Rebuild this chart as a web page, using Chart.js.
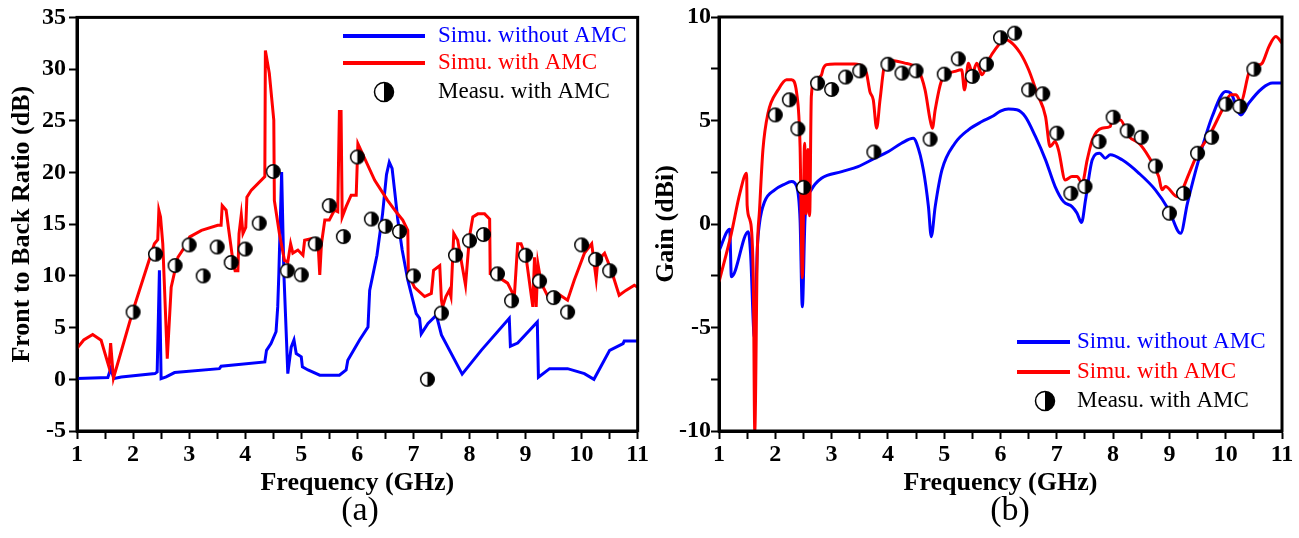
<!DOCTYPE html>
<html>
<head>
<meta charset="utf-8">
<script src="https://cdn.jsdelivr.net/npm/chart.js@4"></script>
<style>
  body { margin: 0; background: #fff; }
  #wrap { position: relative; width: 1299px; height: 538px; }
  canvas { position: absolute; top: 0; }
</style>
</head>
<body>
<div id="wrap">
  <canvas id="chartA" width="650" height="538" style="left:0"></canvas>
  <canvas id="chartB" width="649" height="538" style="left:650px"></canvas>
</div>
<script>
// ---- (a) front to back ratio ----
const aBlueX = [1.0, 1.55, 1.6, 1.66, 1.79, 2.39, 2.43, 2.47, 2.5, 2.59, 2.74, 3.54, 3.57, 4.35, 4.38, 4.46, 4.55, 4.58, 4.6, 4.65, 4.69, 4.76, 4.82, 4.87, 4.91, 5.0, 5.02, 5.12, 5.33, 5.68, 5.8, 5.83, 6.04, 6.19, 6.22, 6.35, 6.45, 6.52, 6.57, 6.62, 6.67, 6.72, 6.8, 6.9, 7.05, 7.11, 7.14, 7.26, 7.41, 7.5, 7.87, 8.21, 8.71, 8.73, 8.86, 9.21, 9.23, 9.43, 9.75, 10.05, 10.22, 10.5, 10.74, 10.76, 11.0];
const aBlueY = [0.07, 0.17, 1.0, 0.07, 0.23, 0.55, 0.7, 10.55, 0.07, 0.23, 0.65, 1.03, 1.26, 1.68, 2.8, 3.45, 4.6, 7.0, 10.2, 20.05, 10.2, 0.55, 3.1, 3.8, 2.49, 2.17, 1.2, 0.9, 0.4, 0.4, 0.9, 1.84, 3.8, 5.06, 8.6, 12.0, 16.0, 19.8, 21.0, 20.4, 18.0, 15.5, 12.5, 9.6, 6.35, 5.9, 4.4, 5.4, 6.2, 4.3, 0.5, 2.8, 5.9, 3.2, 3.5, 5.55, 0.2, 1.03, 1.03, 0.55, 0.0, 2.8, 3.45, 3.7, 3.7];

const aRedX = [1.0, 1.12, 1.28, 1.43, 1.57, 1.6, 1.65, 2.0, 2.38, 2.44, 2.46, 2.49, 2.53, 2.61, 2.68, 2.8, 2.92, 3.01, 3.22, 3.51, 3.57, 3.59, 3.66, 3.7, 3.78, 3.82, 3.87, 3.89, 3.93, 3.96, 4.01, 4.03, 4.11, 4.35, 4.36, 4.43, 4.51, 4.52, 4.61, 4.7, 4.76, 4.81, 4.85, 4.94, 5.03, 5.06, 5.18, 5.3, 5.33, 5.36, 5.42, 5.5, 5.59, 5.65, 5.68, 5.71, 5.73, 5.8, 5.89, 5.98, 6.01, 6.31, 6.54, 6.69, 6.81, 6.9, 6.91, 7.02, 7.2, 7.32, 7.36, 7.47, 7.5, 7.52, 7.58, 7.64, 7.67, 7.72, 7.79, 7.93, 8.0, 8.06, 8.15, 8.27, 8.36, 8.37, 8.51, 8.68, 8.8, 8.86, 8.92, 9.01, 9.13, 9.16, 9.19, 9.22, 9.28, 9.4, 9.57, 9.75, 9.87, 10.05, 10.18, 10.26, 10.29, 10.41, 10.53, 10.67, 10.79, 10.94, 11.0];
const aRedY = [3.0, 3.8, 4.33, 3.78, 1.2, 3.5, 0.1, 6.68, 13.1, 13.5, 16.35, 15.7, 13.1, 2.0, 8.9, 11.8, 12.8, 13.77, 14.4, 14.9, 14.9, 16.8, 16.35, 14.7, 11.5, 10.5, 10.5, 14.1, 15.9, 14.1, 14.7, 17.6, 18.3, 19.6, 31.8, 29.6, 25.06, 17.3, 14.1, 11.5, 11.35, 13.1, 12.2, 12.5, 12.0, 13.45, 13.6, 13.1, 10.1, 13.1, 15.4, 15.4, 16.35, 16.2, 25.9, 25.9, 15.7, 16.7, 17.8, 17.8, 22.8, 19.25, 17.3, 16.2, 15.4, 14.4, 10.2, 8.9, 8.0, 8.3, 10.55, 11.0, 7.65, 7.0, 8.0, 8.6, 8.0, 14.1, 13.45, 9.1, 13.77, 15.7, 16.0, 16.0, 15.5, 10.2, 9.9, 9.3, 8.0, 13.1, 13.1, 11.8, 7.0, 11.8, 7.0, 11.2, 9.3, 8.0, 8.3, 7.65, 9.6, 12.2, 13.1, 9.7, 11.5, 12.2, 10.55, 8.13, 8.6, 9.1, 8.9];

const aMeasX = [2, 2.4, 2.75, 3, 3.25, 3.5, 3.75, 4, 4.25, 4.5, 4.75, 5, 5.25, 5.5, 5.75, 6, 6.25, 6.5, 6.75, 7, 7.25, 7.5, 7.75, 8, 8.25, 8.5, 8.75, 9, 9.25, 9.5, 9.75, 10, 10.25, 10.5];
const aMeasY = [6.5, 12.1, 11.0, 13.0, 10.0, 12.8, 11.3, 12.6, 15.1, 20.1, 10.5, 10.1, 13.1, 16.8, 13.8, 21.5, 15.5, 14.8, 14.3, 10.0, 0.0, 6.4, 12.0, 13.4, 14.0, 10.2, 7.6, 12.0, 9.5, 7.9, 6.5, 13.0, 11.6, 10.5];

// ---- (b) gain ----
const bBlueX = [1.0, 1.19, 1.22, 1.52, 1.56, 1.63, 1.68, 1.72, 1.81, 1.99, 2.15, 2.29, 2.38, 2.44, 2.48, 2.53, 2.64, 2.82, 3.18, 3.47, 3.77, 4.01, 4.24, 4.45, 4.51, 4.63, 4.72, 4.77, 4.84, 4.96, 5.19, 5.43, 5.67, 5.85, 6.0, 6.14, 6.29, 6.44, 6.62, 6.8, 6.97, 7.12, 7.27, 7.36, 7.44, 7.51, 7.63, 7.76, 7.86, 7.95, 8.16, 8.46, 8.75, 8.99, 9.2, 9.32, 9.52, 9.76, 10.0, 10.09, 10.27, 10.41, 10.65, 10.83, 11.0];
const bBlueY = [-1.3, -0.25, -2.55, -0.37, -1.4, -5.5, -1.2, 0.05, 1.08, 1.65, 1.9, 2.05, 1.81, 0.19, -4.0, 0.35, 1.65, 2.21, 2.53, 2.77, 3.18, 3.5, 3.9, 4.14, 3.9, 2.61, 0.84, -0.61, 0.84, 2.61, 3.9, 4.55, 4.95, 5.19, 5.45, 5.55, 5.52, 5.19, 4.23, 3.1, 1.81, 1.08, 0.84, 0.52, 0.07, 1.16, 3.1, 3.42, 3.18, 3.34, 3.1, 2.45, 1.65, 0.68, -0.45, 1.0, 3.1, 5.19, 6.4, 6.32, 5.27, 5.84, 6.56, 6.81, 6.81];

const bRedX = [1.0, 1.22, 1.37, 1.49, 1.5, 1.55, 1.61, 1.635, 1.68, 1.72, 1.78, 1.87, 2.05, 2.2, 2.29, 2.38, 2.44, 2.48, 2.52, 2.55, 2.58, 2.61, 2.64, 2.7, 2.82, 2.85, 2.91, 3.06, 3.41, 3.55, 3.62, 3.68, 3.74, 3.8, 3.86, 3.95, 4.07, 4.3, 4.42, 4.54, 4.66, 4.75, 4.79, 4.84, 4.96, 5.19, 5.31, 5.36, 5.43, 5.5, 5.58, 5.67, 5.79, 5.91, 6.08, 6.17, 6.35, 6.5, 6.65, 6.8, 6.88, 6.97, 7.03, 7.15, 7.27, 7.36, 7.45, 7.54, 7.63, 7.8, 7.95, 7.98, 8.13, 8.28, 8.46, 8.63, 8.81, 8.87, 8.93, 9.14, 9.2, 9.35, 9.52, 9.7, 9.94, 10.09, 10.18, 10.27, 10.41, 10.47, 10.59, 10.65, 10.77, 10.89, 11.0];
const bRedY = [-2.8, -0.45, 1.48, 2.45, 0.9, 0.19, -2.7, -10, -1.42, 0.68, 3.58, 5.35, 6.48, 6.97, 6.97, 6.32, 3.74, -2.6, 3.9, 0.5, 3.6, 0.4, 6.16, 6.97, 7.2, 7.5, 7.7, 7.73, 7.73, 7.6, 7.29, 6.4, 6.0, 4.63, 6.0, 7.77, 7.9, 7.77, 7.69, 7.45, 6.48, 5.03, 4.63, 5.52, 6.97, 7.37, 7.45, 6.48, 7.77, 7.3, 7.77, 7.21, 7.93, 8.45, 8.9, 8.82, 8.26, 7.45, 6.32, 5.19, 3.74, 3.98, 3.58, 2.13, 2.29, 2.29, 1.97, 3.1, 4.06, 4.63, 4.71, 5.03, 5.03, 4.23, 3.9, 3.26, 2.29, 1.65, 1.81, 1.32, 1.48, 2.45, 3.5, 4.23, 5.52, 6.24, 6.24, 5.92, 7.29, 7.61, 7.69, 7.77, 8.58, 9.06, 8.74];

const bMeasX = [2, 2.25, 2.4, 2.5, 2.75, 3, 3.25, 3.5, 3.75, 4, 4.25, 4.5, 4.75, 5, 5.25, 5.5, 5.75, 6, 6.25, 6.5, 6.75, 7, 7.25, 7.5, 7.75, 8, 8.25, 8.5, 8.75, 9, 9.25, 9.5, 9.75, 10, 10.25, 10.5];
const bMeasY = [5.27, 6.0, 4.6, 1.77, 6.8, 6.5, 7.1, 7.4, 3.48, 7.72, 7.29, 7.4, 4.1, 7.24, 7.98, 7.13, 7.72, 9.0, 9.22, 6.48, 6.29, 4.39, 1.48, 1.81, 3.98, 5.16, 4.5, 4.19, 2.8, 0.52, 1.48, 3.42, 4.19, 5.79, 5.68, 7.48];

const legendText = ["Simu. without AMC", "Simu. with AMC", "Measu. with AMC"];

const FONT = "'Liberation Serif', 'Times New Roman', serif";

const pts = (xs, ys) => xs.map((x, i) => ({ x: x, y: ys[i] }));

// half filled circle (right half black)
const halfDot = (r) => {
  const c = document.createElement("canvas");
  const s = Math.ceil(r * 2 + 3);
  c.width = s; c.height = s;
  const g = c.getContext("2d");
  const m = s / 2;
  g.beginPath(); g.arc(m, m, r, 0, Math.PI * 2); g.fillStyle = "#fff"; g.fill();
  g.beginPath(); g.moveTo(m, m - r); g.arc(m, m, r, -Math.PI / 2, Math.PI / 2); g.closePath();
  g.fillStyle = "#000"; g.fill();
  g.beginPath(); g.arc(m, m, r, 0, Math.PI * 2); g.lineWidth = 1.5; g.strokeStyle = "#000"; g.stroke();
  return c;
};
const smallDot = halfDot(6.8);
const bigDot = halfDot(9.5);

const decor = {
  id: "decor",
  afterDraw(chart, args, o) {
    const ctx = chart.ctx, a = chart.chartArea;
    ctx.save();
    ctx.strokeStyle = "#000"; ctx.lineWidth = 3;
    ctx.strokeRect(a.left, a.top, a.right - a.left, a.bottom - a.top);
    ctx.font = "23px " + FONT;
    ctx.textBaseline = "middle";
    const cols = ["#0000ff", "#ff0000", "#000000"];
    legendText.forEach((t, i) => {
      const y = o.rows[i];
      if (i < 2) {
        ctx.strokeStyle = cols[i]; ctx.lineWidth = 4;
        ctx.beginPath(); ctx.moveTo(o.lineX0, y); ctx.lineTo(o.lineX1, y); ctx.stroke();
      } else {
        ctx.drawImage(bigDot, Math.round(o.markX - bigDot.width / 2), Math.round(y - bigDot.height / 2));
      }
      ctx.fillStyle = cols[i];
      ctx.fillText(t, o.textX, y);
    });
    ctx.font = "34px " + FONT;
    ctx.textAlign = "center";
    ctx.fillStyle = "#000";
    ctx.fillText(o.caption, o.capX, o.capY);
    ctx.restore();
  }
};

const makeChart = (id, c) => {
  new Chart(document.getElementById(id), {
    type: "line",
    data: {
      datasets: [
        { label: legendText[2], data: pts(c.measX, c.measY), showLine: false,
          pointStyle: smallDot, pointRadius: 7, borderColor: "#000", backgroundColor: "#000" },
        { label: legendText[1], data: pts(c.redX, c.redY), borderColor: "#ff0000", borderWidth: 3,
          pointRadius: 0, cubicInterpolationMode: c.mode, tension: 0 },
        { label: legendText[0], data: pts(c.blueX, c.blueY), borderColor: "#0000ff", borderWidth: 3,
          pointRadius: 0, cubicInterpolationMode: c.mode, tension: 0 },
      ],
    },
    options: {
      responsive: false,
      animation: false,
      events: [],
      layout: { padding: c.pad },
      plugins: { legend: { display: false }, tooltip: { enabled: false }, decor: c.decor },
      scales: {
        x: {
          type: "linear", min: 1, max: 11,
          afterFit: (s) => { s.height = 70; },
          border: { display: true, color: "#000", width: 3 },
          grid: { drawOnChartArea: false, drawTicks: true, tickLength: 8, tickWidth: 2, tickColor: "#000" },
          ticks: { stepSize: 0.5, autoSkip: false, maxRotation: 0, padding: 1, color: "#000",
                   font: { family: FONT, size: 24, weight: "bold" },
                   callback: (v) => (Number.isInteger(v) ? v : "") },
          title: { display: true, text: "Frequency (GHz)", color: "#000",
                   font: { family: FONT, size: 26, weight: "bold" }, padding: { top: 0, bottom: 2 } },
        },
        y: {
          min: c.yMin, max: c.yMax,
          afterFit: (s) => { s.width = c.yWidth; },
          border: { display: true, color: "#000", width: 3 },
          grid: { drawOnChartArea: false, drawTicks: true, tickLength: 8, tickWidth: 2, tickColor: "#000" },
          ticks: { stepSize: c.yStep, autoSkip: false, padding: c.yPad, color: "#000",
                   font: { family: FONT, size: 24, weight: "bold" },
                   callback: (v) => (v % 5 === 0 ? v : "") },
          title: { display: true, text: c.yTitle, color: "#000",
                   font: { family: FONT, size: 26, weight: "bold" }, padding: { top: c.yTitlePad, bottom: 0 } },
        },
      },
    },
    plugins: [decor],
  });
};

makeChart("chartA", {
  blueX: aBlueX, blueY: aBlueY, redX: aRedX, redY: aRedY, measX: aMeasX, measY: aMeasY,
  mode: "default", yMin: -5, yMax: 35, yStep: 5, yWidth: 77, yPad: 3, yTitlePad: 7,
  yTitle: "Front to Back Ratio (dB)",
  pad: { left: 0, right: 11, top: 17, bottom: 37 },
  decor: { rows: [36, 63, 92], lineX0: 343, lineX1: 425, markX: 384, textX: 438,
           caption: "(a)", capX: 360, capY: 511 },
});

makeChart("chartB", {
  blueX: bBlueX, blueY: bBlueY, redX: bRedX, redY: bRedY, measX: bMeasX, measY: bMeasY,
  mode: "monotone", yMin: -10, yMax: 10, yStep: 2.5, yWidth: 69, yPad: 0, yTitlePad: 1,
  yTitle: "Gain (dBi)",
  pad: { left: 0, right: 17, top: 17, bottom: 37 },
  decor: { rows: [342, 372, 401], lineX0: 367, lineX1: 420, markX: 395, textX: 427,
           caption: "(b)", capX: 360, capY: 511 },
});
</script>
</body>
</html>
